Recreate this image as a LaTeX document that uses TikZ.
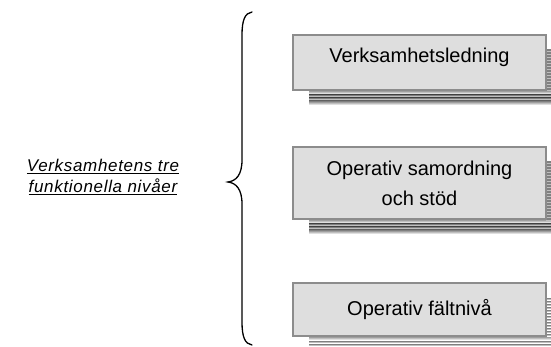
\documentclass[tikz,border=0pt]{standalone}
\usepackage{fontspec}
\setmainfont{Liberation Sans}
\definecolor{boxfill}{HTML}{DEDEDE}
\definecolor{boxline}{HTML}{8C8C8C}
\definecolor{shade}{HTML}{7F7F7F}
\begin{document}
\begin{tikzpicture}[x=1pt,y=-1pt,
  level/.style={draw=boxline, line width=1.5pt, fill=boxfill, minimum width=253pt,
    inner sep=0pt, align=center, font=\fontsize{20}{30}\selectfont},
  brace/.style={line width=1.3pt, line cap=round}]
\useasboundingbox (0,0) rectangle (551,347);
\clip (0,0) rectangle (551,347);

% striped drop shadow behind a box, built from gray bands: #1 = top, #2 = bottom
\newcommand\stripeshadow[2]{%
  \fill[shade] (309,#2) rectangle (562,#2+4);
  \fill[shade] (309,#2+5) rectangle (562,#2+7);
  \fill[shade] (309,#2+8) rectangle (562,#2+10);
  \fill[shade] (309,#2+11) rectangle (562,#2+15);
  \fill[shade] (546,#1+15) rectangle (548,#2);
  \pgfmathtruncatemacro\nr{(#2-#1-15)/3}%
  \foreach \k in {0,...,\nr}{%
    \pgfmathsetmacro\yv{#1+15+3*\k}%
    \fill[shade] (546,\yv) rectangle (562,\yv+2);}%
}

\stripeshadow{35}{90}
\stripeshadow{147}{219}
\stripeshadow{283}{336}

\node[level, minimum height=55pt, text height=15pt, text depth=14pt] (lead) at (419.5,62.5) {Verksamhetsledning};
\node[level, minimum height=72pt] (coord) at (419.5,183) {Operativ samordning\\och stöd};
\node[level, minimum height=53pt, text height=15pt, text depth=4pt] (field) at (419.5,309.5) {Operativ fältnivå};

% curly brace grouping the three levels
\coordinate (btop) at (252,12);
\coordinate (bmid) at (228,182);
\coordinate (bbot) at (252,345);
\draw[brace] (btop) .. controls (245,13) and (242,20) .. (242,35) -- (242,160)
  .. controls (242,175) and (236,181) .. (bmid)
  .. controls (236,183) and (242,189) .. (242,204) -- (242,322)
  .. controls (242,337) and (245,344) .. (bbot);

\node[align=center, inner sep=0pt, font=\fontsize{17}{21}\addfontfeatures{LetterSpace=4}\itshape] (title) at (103,177)
  {\underline{Verksamhetens tre}\\\underline{funktionella nivåer}};
\end{tikzpicture}
\end{document}
